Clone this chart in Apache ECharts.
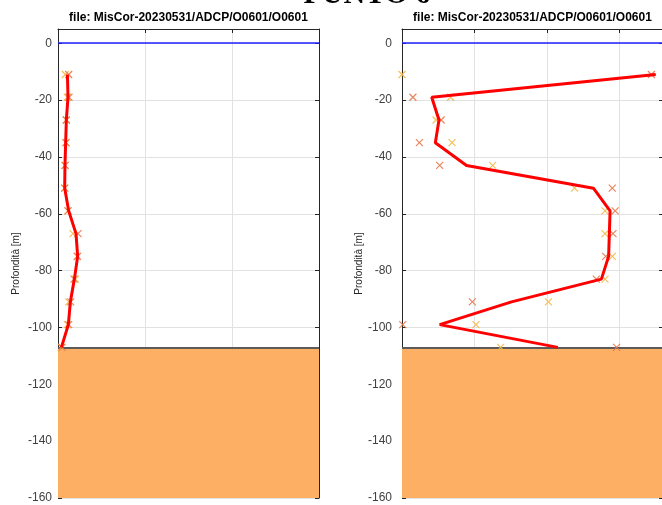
<!DOCTYPE html>
<html>
<head>
<meta charset="utf-8">
<script src="https://cdn.jsdelivr.net/npm/echarts@6/dist/echarts.min.js"></script>
<style>
html,body{margin:0;padding:0;background:#fff;}
#chart{width:662px;height:505px;}
</style>
</head>
<body>
<div id="chart"></div>
<script>
// ---- data ----
const depths = [-11, -19, -27, -35, -43, -51, -59, -67, -75, -83, -91, -99, -107];
// left panel: speed (arbitrary units, axis 0..30)
const speedMean = [1.08, 1.15, 0.96, 0.88, 0.80, 0.77, 1.23, 2.07, 2.26, 1.88, 1.42, 1.19, 0.39];
const speedA    = [0.85, 1.07, 0.96, 0.92, 0.80, 0.77, 1.15, 1.72, 2.18, 2.00, 1.23, 1.08, 0.39];
const speedB    = [1.23, 1.26, 0.96, 0.92, 0.82, 0.77, 1.15, 2.30, 2.25, 1.84, 1.46, 1.23, 0.46];
// right panel: direction (degrees, axis 0..360)
const dirMean = [350, 41, 51, 46, 89, 264, 287, 286, 285, 275, 151, 52, 215];
const dirA    = [0, 67, 47, 69, 125, 238, 280, 280, 290, 280, 202, 102, 136];
const dirB    = [344, 15, 54, 24, 52, 290, 294, 291, 281, 268, 97, 1, 296];
const yTicks = [0, -20, -40, -60, -80, -100, -120, -140, -160];
const seabed = -107;
const mainTitle = 'PUNTO 6';
const subTitle = 'file: MisCor-20230531/ADCP/O0601/O0601';
const yName = 'Profondità [m]';

const pair = (xs) => xs.map((v, i) => [v, depths[i]]);

const chart = echarts.init(document.getElementById('chart'), null, {renderer: 'canvas'});

const axisCol = '#262626';
const gridCol = '#e2e2e2';
const FONT = '"Liberation Sans", Arial, sans-serif';
const xPath = 'path://M0,0L10,10M10,0L0,10';

function yMain(gridIndex, margin) {
  return {
    type: 'value', gridIndex, min: -160, max: 5, interval: 20, position: 'left',
    name: yName, nameLocation: 'middle', nameGap: 37, nameRotate: 90,
    nameTextStyle: {color: axisCol, fontSize: 10, fontFamily: FONT},
    axisLine: {show: true, onZero: false, lineStyle: {color: axisCol, width: 1}},
    axisTick: {show: true, inside: true, length: 4, lineStyle: {color: axisCol}},
    axisLabel: {show: true, color: '#404040', fontSize: 12, fontFamily: FONT, margin: margin,
      showMaxLabel: false,
      formatter: (v) => (yTicks.indexOf(v) >= 0 ? String(v) : '')},
    splitLine: {show: true, lineStyle: {color: gridCol, width: 1}}
  };
}
function yBox(gridIndex) {
  return {
    type: 'value', gridIndex, min: -160, max: 5, interval: 20, position: 'right',
    axisLine: {show: true, onZero: false, lineStyle: {color: axisCol, width: 1}},
    axisTick: {show: true, inside: true, length: 4, lineStyle: {color: axisCol}},
    axisLabel: {show: false}, splitLine: {show: false}
  };
}
function xTop(gridIndex, max, interval) {
  return {
    type: 'value', gridIndex, min: 0, max: max, interval: interval, position: 'top',
    axisLine: {show: true, onZero: false, lineStyle: {color: axisCol, width: 1}},
    axisTick: {show: true, inside: true, length: 4, lineStyle: {color: axisCol}},
    axisLabel: {show: false},
    splitLine: {show: true, lineStyle: {color: gridCol, width: 1}}
  };
}

function panelSeries(idx, a, b, m) {
  const xi = idx, yi = idx * 2;
  return [
    {
      type: 'scatter', xAxisIndex: xi, yAxisIndex: yi, z: 6,
      data: pair(a), symbol: xPath, symbolSize: 7,
      itemStyle: {color: 'rgba(0,0,0,0)', borderColor: '#f6b846', borderWidth: 1.2, opacity: 0.9},
      markArea: {
        silent: true,
        itemStyle: {color: '#fdb064', borderWidth: 0},
        data: [[{yAxis: seabed}, {yAxis: -160}]]
      },
      markLine: {
        silent: true, symbol: ['none', 'none'], label: {show: false},
        data: [
          {yAxis: 0, lineStyle: {color: '#1f1fff', width: 1.5, type: 'solid'}},
          {yAxis: seabed, lineStyle: {color: '#5b5b5b', width: 2, type: 'solid'}}
        ]
      }
    },
    {
      type: 'scatter', xAxisIndex: xi, yAxisIndex: yi, z: 6,
      data: pair(b), symbol: xPath, symbolSize: 7,
      itemStyle: {color: 'rgba(0,0,0,0)', borderColor: '#e5784e', borderWidth: 1.2, opacity: 0.9}
    },
    {
      type: 'line', xAxisIndex: xi, yAxisIndex: yi, z: 7,
      data: pair(m), symbol: 'none', smooth: false,
      lineStyle: {color: '#ff0000', width: 3}
    }
  ];
}

const option = {
  animation: false,
  backgroundColor: '#ffffff',
  grid: [
    {left: 58, top: 29, width: 261, height: 469, outerBoundsMode: 'none', containLabel: false},
    {left: 402, top: 29, width: 261, height: 469, outerBoundsMode: 'none', containLabel: false}
  ],
  xAxis: [xTop(0, 30, 10), xTop(1, 360, 100)],
  yAxis: [yMain(0, 6), yBox(0), yMain(1, 10), yBox(1)],
  series: [].concat(
    panelSeries(0, speedA, speedB, speedMean),
    panelSeries(1, dirA, dirB, dirMean)
  ),
  graphic: [
    {type: 'text', left: null, x: 367, y: -5, z: 100,
      style: {text: mainTitle, font: 'bold 30px "Liberation Serif", "Times New Roman", serif',
        fill: '#000', align: 'center', verticalAlign: 'middle'}},
    {type: 'text', x: 188.5, y: 18, z: 100,
      style: {text: subTitle, font: 'bold 12px ' + FONT, fill: '#000', align: 'center', verticalAlign: 'middle'}},
    {type: 'text', x: 532.5, y: 18, z: 100,
      style: {text: subTitle, font: 'bold 12px ' + FONT, fill: '#000', align: 'center', verticalAlign: 'middle'}}
  ]
};
chart.setOption(option);
</script>
</body>
</html>
